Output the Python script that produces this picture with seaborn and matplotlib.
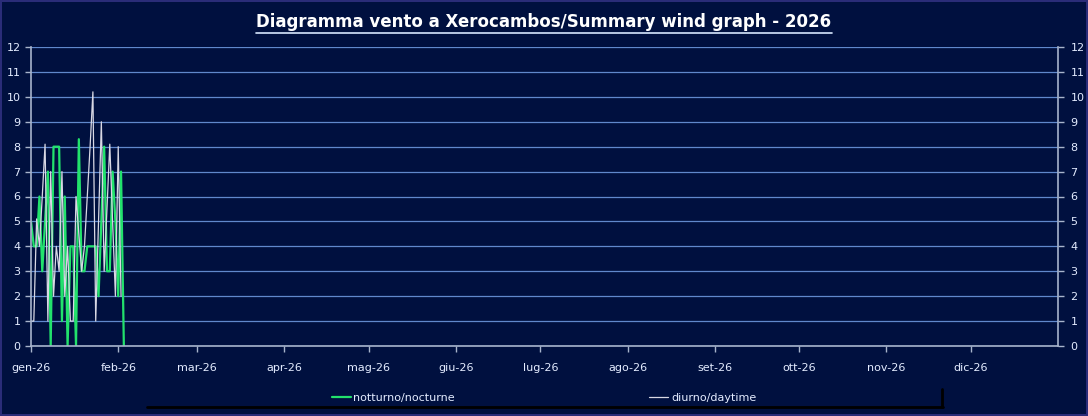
import numpy as np
import pandas as pd
import matplotlib.pyplot as plt
from matplotlib.lines import Line2D
import seaborn as sns

# Daily wind values (Beaufort), 1 Jan 2026 onwards
days = pd.date_range('2026-01-01', periods=34, freq='D')
notturno = [5, 4, 4, 6, 3, 5, 7, 0, 8, 8, 8, 1, 6, 0, 4, 4, 0, 8.3,
            3, 3, 4, 4, 4, 4, 2, 5, 8, 3, 3, 7, 5, 2, 7, 0]
diurno = [1, 1, 5.1, 4, 6, 8.1, 1, 7, 2, 4, 3, 7, 2, 4, 1, 1, 6, 4.5,
          3, 4, 6, 8, 10.2, 1, 5, 9, 3, 5.5, 8.1, 5, 2, 8, 2, np.nan]
month_labels = ['gen-26', 'feb-26', 'mar-26', 'apr-26', 'mag-26', 'giu-26',
                'lug-26', 'ago-26', 'set-26', 'ott-26', 'nov-26', 'dic-26']
y_ticks = list(range(0, 13))

bg = '#00103F'
grid_col = '#6088CC'
spine_col = '#A8B4CC'
text_col = '#E4ECFF'
green = '#22E26C'
white = '#D8D8E4'

sns.set_style('dark', {'axes.facecolor': bg, 'figure.facecolor': bg})
plt.rcParams['font.family'] = ['DejaVu Sans']

fig, ax = plt.subplots(figsize=(10.88, 4.16), dpi=100)
fig.patch.set_facecolor(bg)
fig.patch.set_edgecolor('#2A2C78')
fig.patch.set_linewidth(1.5)
fig.subplots_adjust(left=31/1088, right=1058/1088, top=1-47/416, bottom=1-346/416)

df = pd.DataFrame({'data': days, 'notturno': notturno, 'diurno': diurno})
sns.lineplot(data=df, x='data', y='notturno', color=green, linewidth=1.6, ax=ax,
             label='notturno/nocturne')
sns.lineplot(data=df, x='data', y='diurno', color=white, linewidth=0.9, ax=ax,
             label='diurno/daytime')

months = pd.date_range('2026-01-01', periods=12, freq='MS')
ax.set_xlim(pd.Timestamp('2026-01-01'), pd.Timestamp('2027-01-01'))
ax.set_ylim(0, 12)
ax.set_xticks(months)
ax.set_xticklabels(month_labels)
ax.set_yticks(y_ticks)
ax.set_xlabel('')
ax.set_ylabel('')
ax.grid(axis='y', color=grid_col, linewidth=0.9)
ax.grid(axis='x', visible=False)

for side in ['left', 'bottom', 'right']:
    ax.spines[side].set_visible(True)
    ax.spines[side].set_color(spine_col)
    ax.spines[side].set_linewidth(1.2)
ax.spines['top'].set_visible(False)
ax.tick_params(axis='both', colors=spine_col, labelcolor=text_col, labelsize=8,
               length=4, width=1, direction='out', left=True, bottom=True)
ax.tick_params(axis='x', pad=8)

ax2 = ax.twinx()
ax2.set_ylim(0, 12)
ax2.set_yticks(y_ticks)
ax2.grid(False)
for side in ['left', 'bottom', 'top', 'right']:
    ax2.spines[side].set_visible(False)
ax2.tick_params(axis='y', colors=spine_col, labelcolor=text_col, labelsize=8,
                length=4, width=1, direction='out', right=True, pad=5)

leg = ax.legend(loc='center', bbox_to_anchor=(0.5, 1-398/416), bbox_transform=fig.transFigure,
                ncol=2, frameon=False, fontsize=8, handlelength=1.7, handletextpad=0.25,
                columnspacing=17.5)
for t in leg.get_texts():
    t.set_color(text_col)

# legend shadow (black bottom / right edges)
fig.add_artist(Line2D([147/1088, 943/1088], [1-407/416, 1-407/416], color='black',
                      linewidth=2, transform=fig.transFigure))
fig.add_artist(Line2D([942/1088, 942/1088], [1-389/416, 1-407/416], color='black',
                      linewidth=2, transform=fig.transFigure))

title = fig.text(0.5, 1-22/416, 'Diagramma vento a Xerocambos/Summary wind graph - 2026',
                 ha='center', va='center', color='white', fontsize=12, fontweight='bold')
fig.canvas.draw()
bb = title.get_window_extent().transformed(fig.transFigure.inverted())
fig.add_artist(Line2D([bb.x0, bb.x1], [bb.y0 - 0.004, bb.y0 - 0.004], color='#D8E8FF',
                      linewidth=1.2, transform=fig.transFigure))

plt.savefig('out.png', dpi=100, facecolor=bg, edgecolor='#2A2C78')
